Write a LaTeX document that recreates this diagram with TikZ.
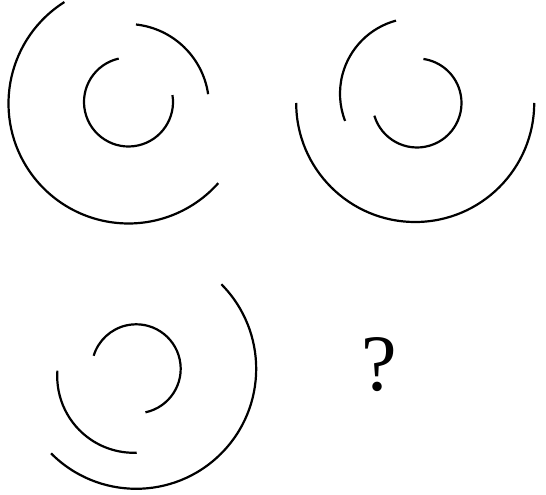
\documentclass[tikz,border=0pt]{standalone}
\usepackage{fontspec}
\setmainfont{Liberation Serif}
\newcommand\myarc[5]{\draw[arcline] (#1,#2) ++(#4:#3) arc[start angle=#4, end angle=#5, radius=#3];}
\begin{document}
\begin{tikzpicture}[x=1pt,y=1pt, arcline/.style={line width=2.2pt}]
\useasboundingbox (0,0) rectangle (546,495);
% figure 1
\myarc{128.5}{393}{44.5}{102.7}{369}
\myarc{127}{389}{82}{8.3}{83.7}
\myarc{128.5}{391.5}{120}{122.3}{318.4}
% figure 2
\myarc{417}{392}{44.5}{-163.4}{81.7}
\myarc{415.7}{401.3}{75.7}{105.1}{201.1}
\myarc{415.2}{392}{119}{180}{360}
% figure 3
\myarc{136.2}{126.2}{44.5}{-78}{163}
\myarc{133.8}{118.8}{76.6}{175.9}{272.2}
\myarc{136.2}{126.2}{120}{-135.2}{44.8}
% question mark
\node[inner sep=0pt, font=\fontsize{80}{80}\selectfont] (q) at (379,130) {?};
\end{tikzpicture}
\end{document}
